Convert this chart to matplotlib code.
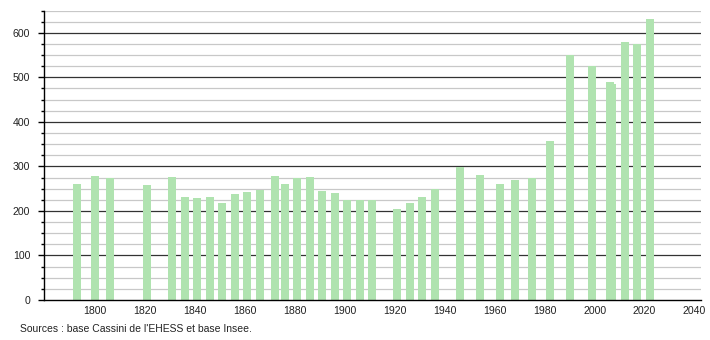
import matplotlib
matplotlib.use("Agg")
import matplotlib.pyplot as plt
from matplotlib.ticker import MultipleLocator

years = [1793, 1800, 1806, 1821, 1831, 1836, 1841, 1846, 1851, 1856,
         1861, 1866, 1872, 1876, 1881, 1886, 1891, 1896, 1901, 1906,
         1911, 1921, 1926, 1931, 1936, 1946, 1954, 1962, 1968, 1975,
         1982, 1990, 1999, 2006, 2007, 2012, 2017, 2022]
population = [261, 279, 274, 259, 277, 232, 229, 232, 218, 238,
              243, 248, 279, 261, 274, 277, 245, 241, 224, 224,
              224, 205, 218, 232, 249, 298, 281, 261, 270, 274,
              358, 550, 526, 490, 484, 580, 575, 632]
x_ticks = [1800, 1820, 1840, 1860, 1880, 1900, 1920, 1940, 1960, 1980, 2000, 2020, 2040]
y_ticks = [0, 100, 200, 300, 400, 500, 600]
source_text = "Sources : base Cassini de l'EHESS et base Insee."

plt.rcParams['font.family'] = ['Liberation Sans', 'DejaVu Sans']

fig = plt.figure(figsize=(7.1, 3.4), dpi=100)
ax = fig.add_axes([44/710, 1 - 300/340, (701 - 44)/710, (300 - 10.5)/340])

ax.set_xlim(1779.6, 2042.6)
ax.set_ylim(0, 650)

# gridlines
for v in range(25, 651, 25):
    if v % 100 == 0:
        ax.axhline(v, color='#333333', lw=0.9, zorder=1)
    else:
        ax.axhline(v, color='#c8c8c8', lw=0.9, zorder=1)

ax.bar(years, population, width=3.2, color='#b0e3b0', zorder=2, align='center')

for s in ['top', 'right']:
    ax.spines[s].set_visible(False)
ax.spines['left'].set_color('black')
ax.spines['bottom'].set_color('black')
ax.spines['left'].set_linewidth(1.0)
ax.spines['bottom'].set_linewidth(1.0)

ax.set_xticks(x_ticks)
ax.set_xticklabels([str(t) for t in x_ticks], fontsize=7.6, color='#222222')
ax.tick_params(axis='x', length=0, pad=4)
ax.set_yticks(y_ticks)
ax.set_yticklabels([str(t) for t in y_ticks], fontsize=7.6, color='#222222')
ax.yaxis.set_minor_locator(MultipleLocator(25))
ax.tick_params(axis='y', which='major', length=4, width=1, pad=6, color='black')
ax.tick_params(axis='y', which='minor', length=2, width=1, color='black')

fig.text(20/710, 1 - 329/340, source_text, fontsize=7.5, color='#222222',
         ha='left', va='center')

fig.savefig('out.png', dpi=100)
